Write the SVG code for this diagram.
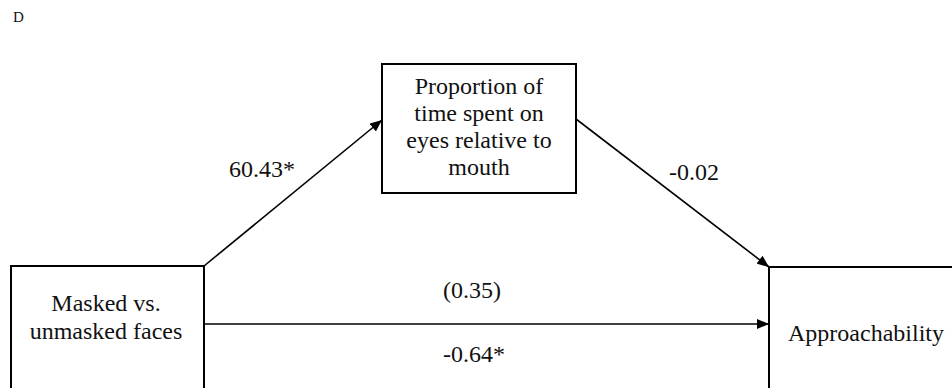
<svg xmlns="http://www.w3.org/2000/svg" width="952" height="388" viewBox="0 0 952 388">
<style>
text{font-family:"Liberation Serif","Times New Roman",serif;font-size:24px;fill:#111;}
.box{fill:#fff;stroke:#000;stroke-width:2;}
.conn{stroke:#000;stroke-width:1.6;fill:none;}
.mid{text-anchor:middle;}
</style>
<defs>
<marker id="arr" viewBox="0 0 12 10" refX="12" refY="5" markerWidth="12" markerHeight="10" markerUnits="userSpaceOnUse" orient="auto">
<path d="M0,0 L12,5 L0,10 Z" fill="#000"/>
</marker>
</defs>
<rect width="952" height="388" fill="#fff"/>
<text x="13" y="22" style="font-size:15px">D</text>
<g id="mediator">
<rect class="box" x="382" y="64" width="194" height="129"/>
<text class="mid" x="479" y="94">Proportion of</text>
<text class="mid" x="479" y="121">time spent on</text>
<text class="mid" x="479" y="148">eyes relative to</text>
<text class="mid" x="479" y="175">mouth</text>
</g>
<g id="predictor">
<rect class="box" x="11" y="266" width="193" height="140"/>
<text class="mid" x="106" y="311">Masked vs.</text>
<text class="mid" x="106" y="339">unmasked faces</text>
</g>
<g id="outcome">
<rect class="box" x="769" y="267" width="200" height="140"/>
<text class="mid" x="866" y="341">Approachability</text>
</g>
<g id="connectors">
<line class="conn" x1="204" y1="266" x2="382" y2="120" marker-end="url(#arr)"/>
<line class="conn" x1="576" y1="119" x2="769" y2="267" marker-end="url(#arr)"/>
<line class="conn" x1="204" y1="324" x2="769" y2="324" marker-end="url(#arr)"/>
</g>
<g id="labels">
<text x="229" y="177">60.43*</text>
<text x="669" y="180">-0.02</text>
<text x="443" y="298">(0.35)</text>
<text x="443" y="362">-0.64*</text>
</g>
</svg>
